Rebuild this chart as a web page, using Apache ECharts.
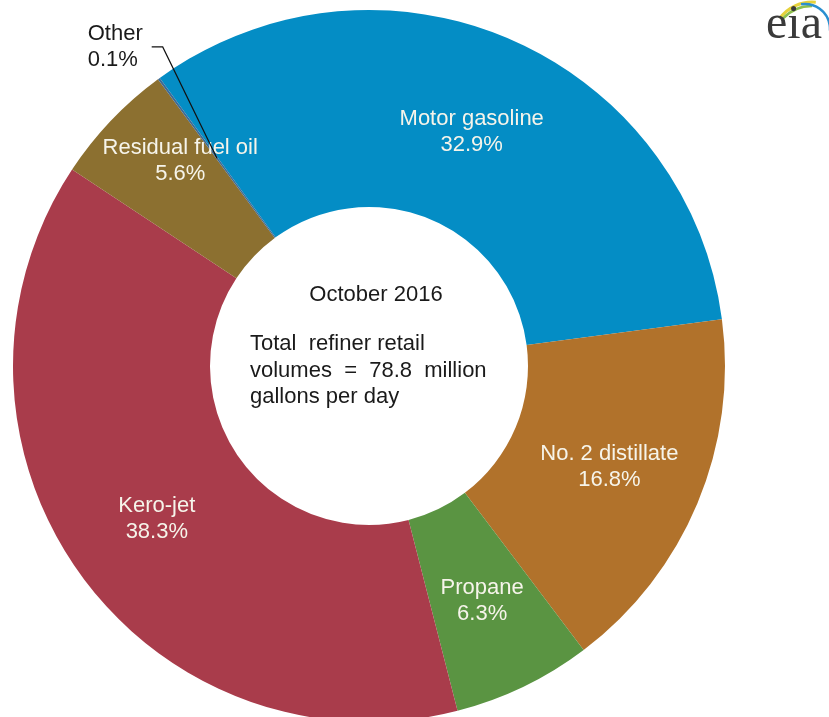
<!DOCTYPE html>
<html>
<head>
<meta charset="utf-8">
<script src="https://cdn.jsdelivr.net/npm/echarts@6/dist/echarts.min.js"></script>
<style>
  html, body { margin: 0; padding: 0; background: #ffffff; }
  #chart { width: 829px; height: 717px; }
</style>
</head>
<body>
<div id="chart"></div>
<script>
// ---- data ----
const categories = ['Motor gasoline', 'No. 2 distillate', 'Propane', 'Kero-jet', 'Residual fuel oil', 'Other'];
const shares = [32.9, 16.8, 6.3, 38.3, 5.6, 0.1];
const sliceColors = ['#048dc5', '#b1722b', '#5a9442', '#a93c4b', '#8c7030', '#3d6b96'];
const centerTitle = 'October 2016';
const centerNote = 'Total  refiner retail\nvolumes  =  78.8  million\ngallons per day';

// ---- layout constants ----
const CX = 369, CY = 366, R_IN = 159, R_OUT = 356;
const FONT = '"Liberation Sans", Arial, sans-serif';

const chart = echarts.init(document.getElementById('chart'), null, { renderer: 'canvas' });

// main ring: colored sectors with inside labels (Other's label handled by overlay series)
const mainData = categories.map((name, i) => {
  const item = { name: name, value: shares[i], itemStyle: { color: sliceColors[i] } };
  if (name === 'Other') item.label = { show: false };
  return item;
});

// overlay ring: transparent sectors, only carries the "Other" callout so its leader line sits on top
const overlayData = categories.map((name, i) => {
  const item = { name: name, value: shares[i], itemStyle: { color: 'rgba(0,0,0,0)' }, label: { show: false }, labelLine: { show: false } };
  if (name === 'Other') {
    item.label = { show: true, position: 'outside', color: '#1a1a1a', formatter: '{b}\n{c}%' };
    item.labelLine = { show: true, length: 24, length2: 11, lineStyle: { color: '#111', width: 1.2 } };
  }
  return item;
});

const ringBase = {
  type: 'pie',
  center: [CX, CY],
  radius: [R_IN, R_OUT],
  startAngle: 126,
  clockwise: true,
  avoidLabelOverlap: false,
  itemStyle: { borderWidth: 0 }
};

const option = {
  animation: false,
  backgroundColor: '#ffffff',
  series: [
    Object.assign({}, ringBase, {
      z: 2,
      label: {
        show: true,
        position: 'inside',
        formatter: '{b}\n{c}%',
        color: '#f6f4ea',
        fontFamily: FONT,
        fontSize: 22,
        lineHeight: 26,
        align: 'center'
      },
      labelLine: { show: false },
      labelLayout: function (params) {
        const name = categories[params.dataIndex];
        if (name === 'Residual fuel oil') return { dy: -26 };
        if (name === 'Motor gasoline') return { dy: 5 };
        if (name === 'Kero-jet') return { dy: 2 };
      },
      data: mainData
    }),
    Object.assign({}, ringBase, {
      z: 5,
      silent: true,
      label: { fontFamily: FONT, fontSize: 22, lineHeight: 26 },
      labelLayout: function (params) {
        const name = categories[params.dataIndex];
        if (name === 'Other' && params.labelLinePoints) {
          const p = params.labelLinePoints[0];
          const a = Math.atan2(p[1] - CY, p[0] - CX);
          const midR = (R_IN + R_OUT) / 2;
          const p0 = [CX + midR * Math.cos(a), CY + midR * Math.sin(a)];
          const a1 = a + 3.3 * Math.PI / 180;
          const r1 = R_OUT + 24;
          const p1 = [CX + r1 * Math.cos(a1), CY + r1 * Math.sin(a1)];
          const p2 = [p1[0] - 11, p1[1]];
          return {
            x: p2[0] - 64,
            y: p2[1],
            align: 'left',
            verticalAlign: 'middle',
            labelLinePoints: [p0, p1, p2]
          };
        }
      },
      data: overlayData
    })
  ],
  graphic: [
    {
      type: 'text',
      x: 376, y: 295,
      style: {
        text: centerTitle,
        fill: '#1a1a1a',
        font: '22px ' + FONT,
        align: 'center',
        verticalAlign: 'middle'
      }
    },
    {
      type: 'text',
      x: 250, y: 331,
      style: {
        text: centerNote,
        fill: '#1a1a1a',
        font: '22px ' + FONT,
        lineHeight: 26.5,
        align: 'left',
        verticalAlign: 'top'
      }
    },
    // eia logo swoosh
    {
      type: 'arc',
      shape: { cx: 812, cy: 42, r: 40, startAngle: -Math.PI * 0.80, endAngle: -Math.PI * 0.47 },
      style: { stroke: '#e6d23c', lineWidth: 3, fill: null }
    },
    {
      type: 'arc',
      shape: { cx: 812, cy: 46, r: 40, startAngle: -Math.PI * 0.76, endAngle: -Math.PI * 0.50 },
      style: { stroke: '#8dbf4c', lineWidth: 2.5, fill: null }
    },
    {
      type: 'arc',
      shape: { cx: 805, cy: 29, r: 25, startAngle: -Math.PI * 0.55, endAngle: Math.PI * 0.02 },
      style: { stroke: '#2a8fd0', lineWidth: 2.5, fill: null }
    },
    {
      type: 'text',
      x: 794, y: 49,
      style: {
        text: 'eia',
        fill: '#3a3a3a',
        font: '48px "Liberation Serif", "Times New Roman", serif',
        align: 'center',
        verticalAlign: 'bottom'
      }
    }
  ]
};

chart.setOption(option);
</script>
</body>
</html>
